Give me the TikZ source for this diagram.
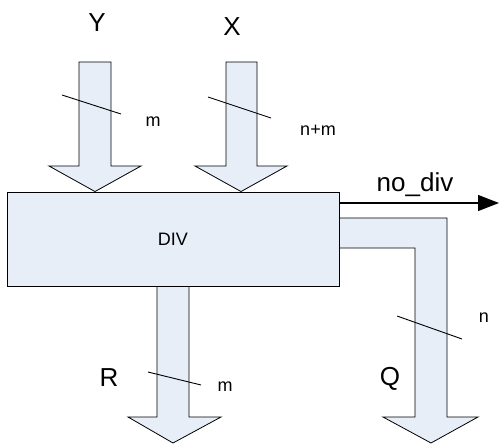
\documentclass[tikz,border=0pt]{standalone}
\usepackage{fontspec}
\setmainfont{Liberation Sans}
\usepackage{tikz}
\usetikzlibrary{arrows.meta}
\definecolor{busfill}{RGB}{231,238,248}
\tikzset{
  bus/.style={fill=busfill, draw=black, line width=0.8pt, line join=miter},
  divbox/.style={
    rectangle, draw=black, fill=busfill, line width=0.9pt,
    minimum width=332pt, minimum height=94pt, inner sep=0pt,
    font=\fontsize{18}{20}\selectfont
  },
  signame/.style={inner sep=0pt, font=\fontsize{26}{30}\selectfont},
  width label/.style={inner sep=0pt, font=\fontsize{18}{20}\selectfont},
  slash/.style={draw=black, line width=0.9pt},
}
\begin{document}
\begin{tikzpicture}[x=1pt, y=-1pt]
  \useasboundingbox (0,0) rectangle (499,444);

  % bent output bus Q (drawn under the block)
  \draw[bus] (339,218) -- (447,218) -- (447,417) -- (478,417) -- (431,443)
    -- (383,417) -- (415,417) -- (415,248) -- (339,248) -- cycle;

  \node[divbox] (div) at (173,239) {DIV};

  % input buses
  \draw[bus] (79,62) -- (111,62) -- (111,166) -- (141,166) -- (div.north -| 95,0)
    -- (49,166) -- (79,166) -- cycle;
  \draw[bus] (226,62) -- (257,62) -- (257,166) -- (287,166) -- (div.north -| 241,0)
    -- (195,166) -- (226,166) -- cycle;

  % output bus R
  \draw[bus] (div.south -| 157,0) -- (div.south -| 189,0) -- (189,417) -- (221,417)
    -- (173,443) -- (128,417) -- (157,417) -- cycle;

  % no_div flag
  \coordinate (nodiv) at (499,203);
  \draw[line width=1.3pt, -{Triangle[length=21pt, width=16pt]}] (div.east |- nodiv) -- (nodiv);

  % bus width slashes
  \draw[slash] (62,95) -- (121,114);
  \draw[slash] (208,97) -- (271,118);
  \draw[slash] (148,372) -- (201,385);
  \draw[slash] (397,316) -- (462,339);

  % labels
  \node[signame] (Y) at (97,23) {Y};
  \node[signame] (X) at (232,27) {X};
  \node[signame] (R) at (109,378) {R};
  \node[signame] (Q) at (390,379) {Q};
  \node[signame, anchor=base] (nodivlabel) at (415,192) {no\_div};
  \node[width label] (wY) at (153,122) {m};
  \node[width label] (wX) at (318,130) {n+m};
  \node[width label] (wR) at (225,387) {m};
  \node[width label] (wQ) at (484,318) {n};
\end{tikzpicture}
\end{document}
